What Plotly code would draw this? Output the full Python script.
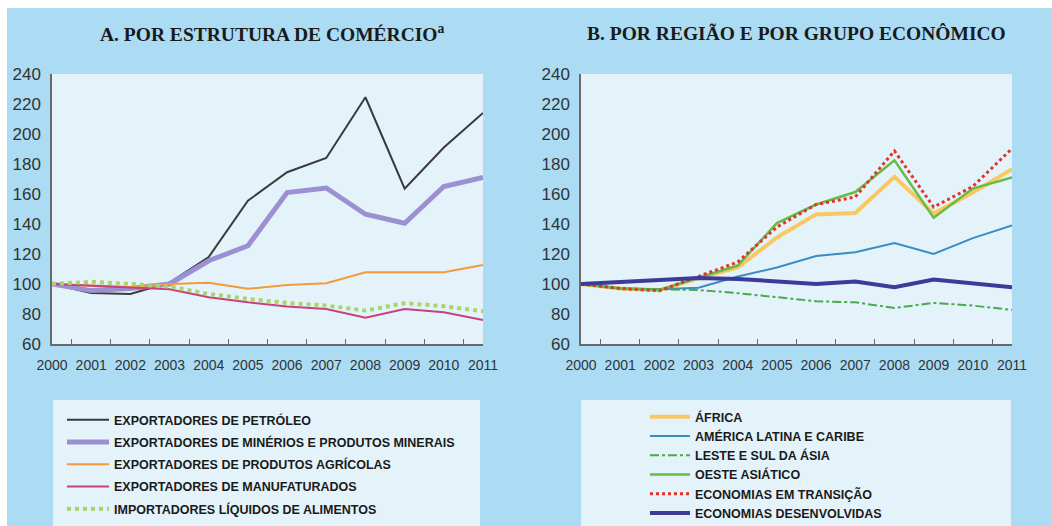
import plotly.graph_objects as go

W, H = 1052, 526

years = [str(y) for y in range(2000, 2012)]

# Panel A: by trade structure
petroleo = [100, 94, 93.4, 101, 118, 155.5, 174.5, 184, 224.5, 163.5, 191, 214]
minerios = [100, 95.6, 97, 100, 115.5, 125.5, 161, 164, 146.5, 140.5, 165, 171]
agricolas = [100, 99, 98, 100, 100.8, 96.8, 99.4, 100.5, 107.8, 107.8, 107.8, 112.6]
manufaturados = [100, 99, 98, 96.5, 91.2, 87.8, 85, 83.4, 77.5, 83.4, 81.2, 76]
importadores = [100, 101.5, 100, 98.3, 93.4, 90, 87.4, 85.6, 82.3, 87.2, 85.2, 81.8]

# Panel B: by region and economic group
africa = [100, 97, 95.8, 104, 111, 131, 146.4, 147.3, 171.4, 147, 161, 176.5]
america_latina = [100, 97, 96.5, 97.5, 105, 111, 118.6, 121.2, 127.3, 120.1, 130.6, 139]
leste_sul_asia = [100, 97, 96.5, 96, 93.9, 91.2, 88.5, 87.8, 84, 87.4, 85.6, 82.7]
oeste_asiatico = [100, 97, 96, 104, 112.3, 140.6, 153, 161.3, 182.5, 144.2, 163.6, 171]
transicao = [100, 97, 95.5, 105, 114.6, 138, 153, 158, 188.7, 151.3, 165, 190.3]
desenvolvidas = [100, 101.5, 102.8, 104, 103.4, 102, 100, 101.6, 97.9, 103, 100.5, 97.9]

y_ticks = [60, 80, 100, 120, 140, 160, 180, 200, 220, 240]

series_a = [
    ("EXPORTADORES DE PETRÓLEO", petroleo, "#3a3a3a", 2, "solid"),
    ("EXPORTADORES DE MINÉRIOS E PRODUTOS MINERAIS", minerios, "#9c90d2", 5, "solid"),
    ("EXPORTADORES DE PRODUTOS AGRÍCOLAS", agricolas, "#f39a3a", 2, "solid"),
    ("EXPORTADORES DE MANUFATURADOS", manufaturados, "#c8417c", 2, "solid"),
    ("IMPORTADORES LÍQUIDOS DE ALIMENTOS", importadores, "#a8d46a", 4, "dot"),
]
series_b = [
    ("ÁFRICA", africa, "#f9c862", 4, "solid"),
    ("AMÉRICA LATINA E CARIBE", america_latina, "#3b8dc0", 2, "solid"),
    ("LESTE E SUL DA ÁSIA", leste_sul_asia, "#4aa84e", 2, "dashdot"),
    ("OESTE ASIÁTICO", oeste_asiatico, "#68bb45", 2.5, "solid"),
    ("ECONOMIAS EM TRANSIÇÃO", transicao, "#e0342b", 3, "dot"),
    ("ECONOMIAS DESENVOLVIDAS", desenvolvidas, "#3d3a98", 4, "solid"),
]

fig = go.Figure()
for i, (name, vals, col, wd, dash) in enumerate(series_a):
    fig.add_trace(go.Scatter(x=years, y=vals, name=name, mode="lines",
                             line=dict(color=col, width=wd, dash=dash),
                             xaxis="x", yaxis="y", legend="legend",
                             legendgroup="a%d" % i))
for i, (name, vals, col, wd, dash) in enumerate(series_b):
    fig.add_trace(go.Scatter(x=years, y=vals, name=name, mode="lines",
                             line=dict(color=col, width=wd, dash=dash),
                             xaxis="x2", yaxis="y2", legend="legend2",
                             legendgroup="b%d" % i))

def px(v):
    return v / W

def py(v):
    return 1 - v / H

bg = "#abdcf4"
pale = "#e4f3fa"
tick_font = dict(family="Liberation Sans, Arial, sans-serif", size=14, color="#333333")
ytick_font = dict(family="Liberation Sans, Arial, sans-serif", size=17, color="#333333")

ydom = [py(344), py(74)]
common_x = dict(type="category", showline=True, linecolor="#6a6a6a", linewidth=1.5,
                ticks="inside", ticklen=5, tickcolor="#6a6a6a", tickson="boundaries",
                tickangle=0, ticklabelstandoff=7, showgrid=False, zeroline=False,
                tickfont=tick_font, fixedrange=True, automargin=False)
common_y = dict(range=[60, 240], tickvals=y_ticks, showline=True, linecolor="#6a6a6a",
                linewidth=1.5, ticks="", showgrid=False, zeroline=False,
                ticklabelstandoff=6, tickfont=ytick_font, fixedrange=True,
                automargin=False)

legend_font = dict(family="Liberation Sans, Arial, sans-serif", size=12.5, color="#1a1a1a",
                   weight="bold")
title_font = dict(family="Liberation Serif, Times New Roman, serif", size=19.5, color="#1a1a1a")

fig.update_layout(
    width=W, height=H, autosize=False,
    margin=dict(l=0, r=0, t=0, b=0, autoexpand=False),
    paper_bgcolor=bg, plot_bgcolor=pale,
    xaxis=dict(domain=[px(52), px(483)], anchor="y", **common_x),
    yaxis=dict(domain=ydom, anchor="x", **common_y),
    xaxis2=dict(domain=[px(581), px(1012)], anchor="y2", **common_x),
    yaxis2=dict(domain=ydom, anchor="x2", **common_y),
    legend=dict(x=px(62), y=py(405), xanchor="left", yanchor="top",
                xref="container", yref="container",
                bgcolor="rgba(0,0,0,0)", borderwidth=0, font=legend_font,
                itemwidth=42, tracegroupgap=3, traceorder="grouped"),
    legend2=dict(x=px(645), y=py(402), xanchor="left", yanchor="top",
                 xref="container", yref="container",
                 bgcolor="rgba(0,0,0,0)", borderwidth=0, font=legend_font,
                 itemwidth=40, tracegroupgap=0, traceorder="grouped"),
    shapes=[
        dict(type="rect", xref="paper", yref="paper", x0=0, x1=1, y0=py(8), y1=1,
             fillcolor="white", line=dict(width=0), layer="below"),
        dict(type="rect", xref="paper", yref="paper", x0=0, x1=px(7), y0=0, y1=py(8),
             fillcolor="white", line=dict(width=0), layer="below"),
        dict(type="rect", xref="paper", yref="paper", x0=px(53), x1=px(480),
             y0=0, y1=py(400), fillcolor=pale, line=dict(width=0), layer="below"),
        dict(type="rect", xref="paper", yref="paper", x0=px(581), x1=px(1011),
             y0=0, y1=py(400), fillcolor=pale, line=dict(width=0), layer="below"),
    ],
    annotations=[
        dict(text="<b>A. POR ESTRUTURA DE COMÉRCIO<sup>a</sup></b>", x=px(272), y=py(33),
             xref="paper", yref="paper", showarrow=False, xanchor="center", yanchor="middle",
             font=title_font),
        dict(text="<b>B. POR REGIÃO E POR GRUPO ECONÔMICO</b>", x=px(796), y=py(33),
             xref="paper", yref="paper", showarrow=False, xanchor="center", yanchor="middle",
             font=title_font),
    ],
)

fig.write_html(
    "out.html",
    config={"displayModeBar": False},
    post_script="document.body.style.margin='0';document.body.style.padding='0';"
                "document.body.style.overflow='hidden';"
                "document.documentElement.style.overflow='hidden';",
)
